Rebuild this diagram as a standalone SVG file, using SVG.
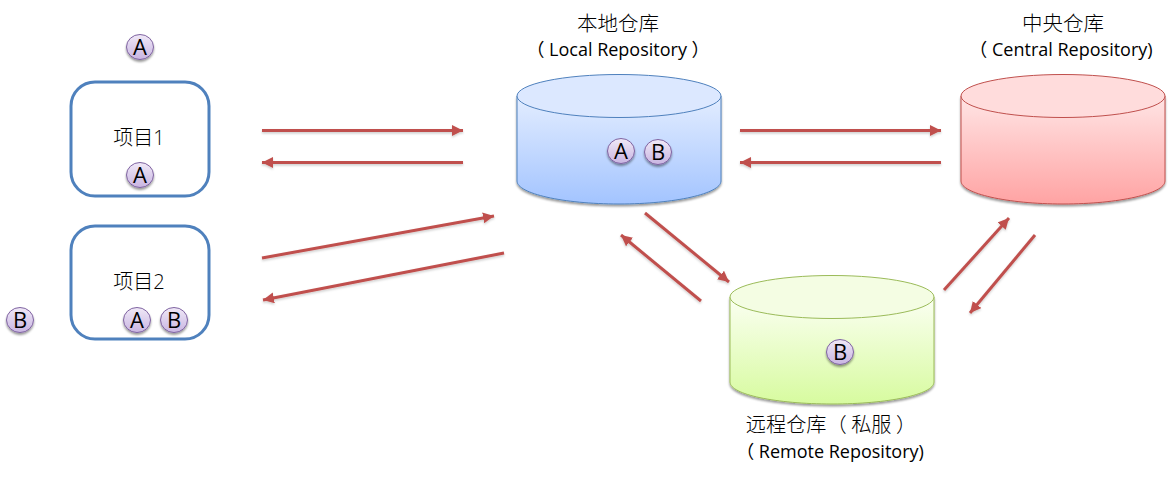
<svg xmlns="http://www.w3.org/2000/svg" width="1173" height="491" viewBox="0 0 1173 491">
<style>
text{font-family:"Open Sans","Noto Sans CJK SC",sans-serif;fill:#000}
.t{font-size:20.500px;text-anchor:middle;font-family:"Noto Sans CJK SC",sans-serif;font-weight:300}
.e{font-size:18px;text-anchor:middle}
.l{font-size:20px;text-anchor:middle;font-weight:300}
.badge-t{font-size:22px;text-anchor:middle;font-family:"Open Sans",sans-serif}
.box{fill:#fff;stroke:#4f81bd;stroke-width:3}
.conn line{stroke:#c0504d;stroke-width:3;marker-end:url(#arrow);filter:url(#ls)}
.badge ellipse{fill:url(#gb);stroke:#8064a2;stroke-width:1;filter:url(#sh)}
</style>
<defs>
<marker id="arrow" markerUnits="userSpaceOnUse" markerWidth="14" markerHeight="12" refX="11" refY="5.500" orient="auto"><path d="M0 0L11 5.500L0 11z" fill="#c0504d"/></marker>
<filter id="sh" x="-30%" y="-30%" width="160%" height="170%"><feDropShadow dx="0" dy="2" stdDeviation="1.200" flood-color="#000" flood-opacity=".4"/></filter>
<filter id="ls" x="0" y="0" width="1173" height="491" filterUnits="userSpaceOnUse"><feDropShadow dx="0" dy="1.500" stdDeviation="1" flood-color="#000" flood-opacity=".2"/></filter>
<linearGradient id="gb" x1="0" y1="0" x2="0" y2="1"><stop offset="0" stop-color="#f0e9f7"/><stop offset="1" stop-color="#c9b5e2"/></linearGradient>
<linearGradient id="blue" x1="0" y1="0" x2="0" y2="1"><stop offset="0" stop-color="#e3edff"/><stop offset="1" stop-color="#a3c4ff"/></linearGradient>
<linearGradient id="red" x1="0" y1="0" x2="0" y2="1"><stop offset="0" stop-color="#ffe5e5"/><stop offset="1" stop-color="#ffa3a3"/></linearGradient>
<linearGradient id="green" x1="0" y1="0" x2="0" y2="1"><stop offset="0" stop-color="#fbfff2"/><stop offset="1" stop-color="#d7fb9f"/></linearGradient>
<symbol id="bA" overflow="visible"><g class="badge"><ellipse cx="0" cy="0" rx="13.500" ry="12.500"/></g><text class="badge-t" y="8">A</text></symbol>
<symbol id="bB" overflow="visible"><g class="badge"><ellipse cx="0" cy="0" rx="13.500" ry="12.500"/></g><text class="badge-t" y="8">B</text></symbol>
</defs>

<g class="conn" id="connectors">
<line x1="262" y1="130.500" x2="463" y2="130.500"/>
<line x1="463" y1="162.500" x2="262" y2="162.500"/>
<line x1="740" y1="130.500" x2="941" y2="130.500"/>
<line x1="941" y1="162.500" x2="740" y2="162.500"/>
<line x1="262" y1="258" x2="494" y2="216"/>
<line x1="504" y1="253" x2="263" y2="300"/>
<line x1="645" y1="213" x2="729" y2="282"/>
<line x1="701" y1="301" x2="621" y2="235"/>
<line x1="944" y1="290" x2="1009" y2="218"/>
<line x1="1035" y1="235" x2="970" y2="313"/>
</g>

<g id="project1">
<rect class="box" x="71" y="82" width="138" height="114" rx="24"/>
<text class="l" x="139" y="145">项目1</text>
<use href="#bA" x="140" y="175"/>
</g>
<g id="project2">
<rect class="box" x="71" y="226" width="138" height="113" rx="24"/>
<text class="l" x="139" y="289">项目2</text>
<use href="#bA" x="137" y="320"/>
<use href="#bB" x="174" y="320"/>
</g>
<g id="badge-a"><use href="#bA" x="140" y="47"/></g>
<g id="badge-b"><use href="#bB" x="20" y="320"/></g>

<g id="local">
<path d="M517 96V181C517 193.500 563 204 619 204S721 193.500 721 181V96z" fill="url(#blue)" stroke="#4f81bd" filter="url(#sh)"/>
<ellipse cx="619" cy="96" rx="102" ry="21.500" fill="#dce8ff" stroke="#4f81bd"/>
<use href="#bA" x="621" y="151"/>
<use href="#bB" x="658" y="152"/>
<text class="t" x="618" y="31">本地仓库</text>
<text class="e" x="618" y="56">（ Local Repository ）</text>
</g>

<g id="central">
<path d="M961 96V181C961 193.500 1007 204 1063 204S1165 193.500 1165 181V96z" fill="url(#red)" stroke="#c0504d" filter="url(#sh)"/>
<ellipse cx="1063" cy="96" rx="102" ry="21.500" fill="#ffdcdc" stroke="#c0504d"/>
<text class="t" x="1063" y="31">中央仓库</text>
<text class="e" x="1061" y="56">（ Central Repository)</text>
</g>

<g id="remote">
<path d="M730 297V382C730 394.500 776 404 832 404S934 394.500 934 382V297z" fill="url(#green)" stroke="#9bbb59" filter="url(#sh)"/>
<ellipse cx="832" cy="297" rx="102" ry="21.500" fill="#f4fde3" stroke="#9bbb59"/>
<use href="#bB" x="840" y="352"/>
<text class="t" x="831" y="432" style="font-size:20.200px">远程仓库（ 私服 ）</text>
<text class="e" x="830" y="458">（ Remote Repository)</text>
</g>
</svg>
